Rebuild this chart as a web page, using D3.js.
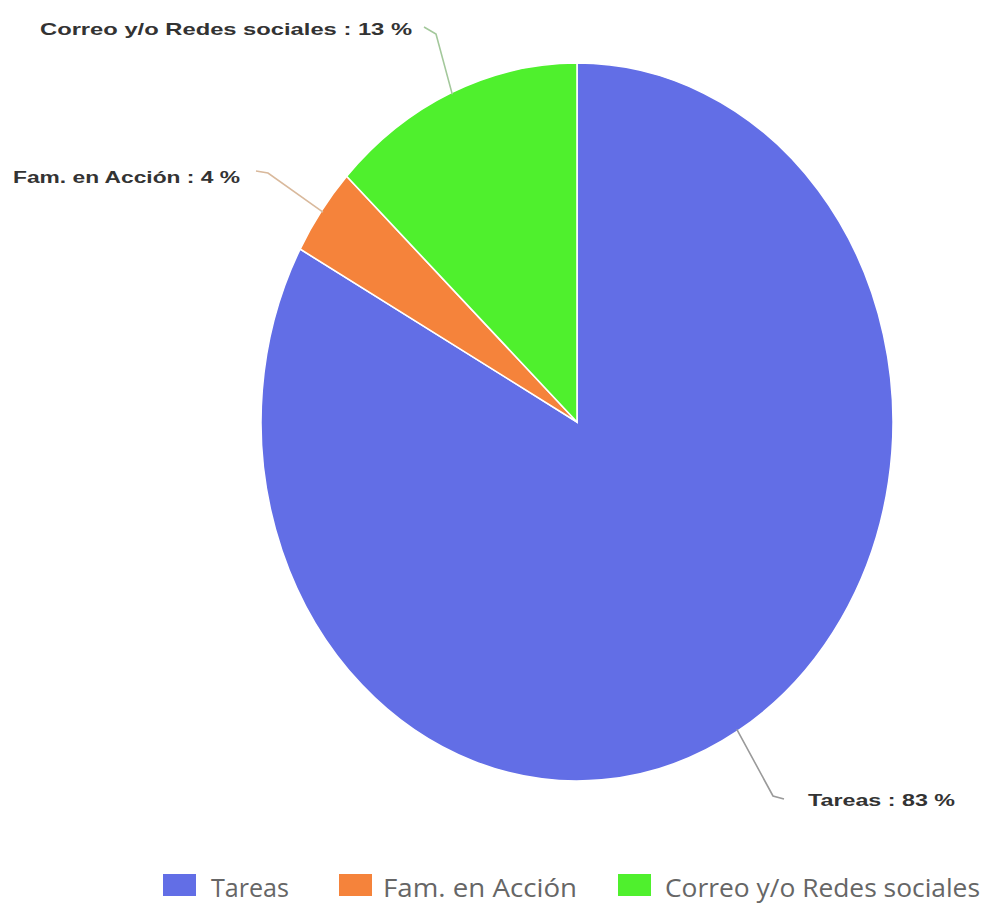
<!DOCTYPE html>
<html>
<head>
<meta charset="utf-8">
<script src="https://cdn.jsdelivr.net/npm/d3@7"></script>
<style>
  html, body { margin: 0; padding: 0; background: #fff; }
  svg { display: block; }
</style>
</head>
<body>
<svg id="chart" width="1003" height="907"></svg>
<script>
// Share of use, in percent
const categories = ["Tareas", "Fam. en Acción", "Correo y/o Redes sociales"];
const values = [83, 4, 13];
const sliceColors = ["#626ee6", "#f5833b", "#4ff02d"];
const leaderColors = ["#9a9a9a", "#d9b99c", "#a3c89b"];

const svg = d3.select("#chart");

// Pie geometry: slightly taller than wide
const cx = 577, cy = 422, ry = 359, rx = 316;
const stretchY = 1.14;

const pie = d3.pie().sort(null).value(d => d.value).startAngle(0).endAngle(2 * Math.PI);
const arcs = pie(categories.map((c, i) => ({ name: c, value: values[i], color: sliceColors[i] })));
const arc = d3.arc().innerRadius(0).outerRadius(ry);

const pieG = svg.append("g")
  .attr("transform", `translate(${cx},${cy}) scale(${rx / ry},1)`);

pieG.selectAll("path.slice")
  .data(arcs)
  .join("path")
  .attr("class", "slice")
  .attr("d", arc)
  .attr("fill", d => d.data.color)
  .attr("stroke", "#ffffff")
  .attr("stroke-width", 1.6)
  .attr("vector-effect", "non-scaling-stroke");

// Point on the rim at a slice's middle angle, in page coordinates
function rimPoint(d, extra) {
  const a = (d.startAngle + d.endAngle) / 2;
  return [cx + (rx + extra) * Math.sin(a), cy - (ry + extra) * Math.cos(a)];
}

// Outside labels with leader lines
const labelLayout = [
  { x: 808, y: 806, width: 147, bend: [773, 796], end: [784, 799] },
  { x: 13,  y: 183, width: 227, bend: [268, 173], end: [256, 171] },
  { x: 40,  y: 35,  width: 372, bend: [436, 34],  end: [424, 27] }
];

const line = d3.line().curve(d3.curveLinear);

arcs.forEach((d, i) => {
  const L = labelLayout[i];
  const p0 = rimPoint(d, -2);
  svg.append("path")
    .attr("d", line([p0, L.bend, L.end]))
    .attr("fill", "none")
    .attr("stroke", leaderColors[i])
    .attr("stroke-width", 1.6);

  svg.append("text")
    .attr("transform", `translate(${L.x},${L.y}) scale(1,${stretchY})`)
    .attr("font-family", "Liberation Sans, Arial, sans-serif")
    .attr("font-weight", "bold")
    .attr("font-size", 15)
    .attr("fill", "#333")
    .attr("textLength", L.width)
    .attr("lengthAdjust", "spacingAndGlyphs")
    .text(`${d.data.name} : ${d.data.value} %`);
});

// Legend
const legendLayout = [
  { sx: 163, tx: 211, tw: 78 },
  { sx: 339, tx: 383, tw: 194 },
  { sx: 618, tx: 665, tw: 315 }
];
const legend = svg.append("g");
categories.forEach((c, i) => {
  const L = legendLayout[i];
  legend.append("rect")
    .attr("x", L.sx)
    .attr("y", 874)
    .attr("width", 33)
    .attr("height", 22)
    .attr("fill", sliceColors[i]);
  legend.append("text")
    .attr("transform", `translate(${L.tx},897) scale(1,${stretchY})`)
    .attr("font-family", "Open Sans, sans-serif")
    .attr("font-size", 22)
    .attr("fill", "#666")
    .attr("textLength", L.tw)
    .attr("lengthAdjust", "spacingAndGlyphs")
    .text(c);
});
</script>
</body>
</html>
